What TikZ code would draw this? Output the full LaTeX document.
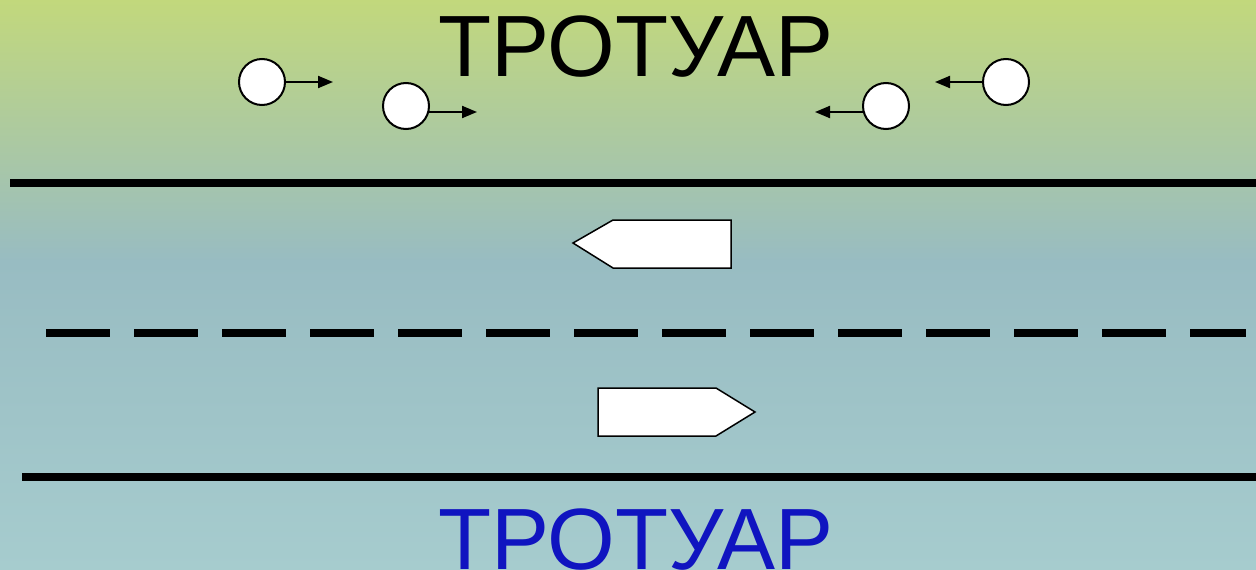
\documentclass[tikz,border=0pt]{standalone}
\usepackage{fontspec}
\setmainfont{Liberation Sans}
\usetikzlibrary{arrows.meta}
\definecolor{bgtop}{RGB}{194,216,124}
\definecolor{bgmid}{RGB}{152,188,194}
\definecolor{bgbot}{RGB}{166,204,206}
\definecolor{walkblue}{RGB}{16,20,192}
\begin{document}
\begin{tikzpicture}[x=1pt,y=-1pt,
  ped/.style={circle,draw=black,fill=white,line width=2pt,minimum size=46pt,inner sep=0pt},
  mv/.style={line width=2pt,-{Triangle[length=15pt,width=12pt]}},
  car/.style={draw=black,fill=white,line width=1.5pt,line join=miter},
  road/.style={line width=8pt},
  walk/.style={font=\fontsize{87}{87}\selectfont,anchor=base,inner sep=0pt}]
\useasboundingbox (0,0) rectangle (1256,570);
\shade[top color=bgtop,bottom color=bgmid] (0,0) rectangle (1256,262);
\shade[top color=bgmid,bottom color=bgbot] (0,260) rectangle (1256,570);
% text
\node[walk] (t1) at (636,76) {ТРОТУАР};
\node[walk,text=walkblue] (t2) at (636,569) {ТРОТУАР};
% road lines
\draw[road] (10,183) -- (1256,183);
\draw[road,dash pattern=on 64pt off 24pt] (46,333) -- (1246,333);
\draw[road] (22,477) -- (1256,477);
% vehicles
\draw[car] (573,243) -- (613,220) -- (731,220) -- (731,268) -- (613,268) -- cycle;
\draw[car] (598,388) -- (716,388) -- (755,412) -- (716,436) -- (598,436) -- cycle;
% pedestrians
\node[ped] (p1) at (262,82) {};
\node[ped] (p2) at (406,106) {};
\node[ped] (p3) at (886,106) {};
\node[ped] (p4) at (1006,82) {};
\coordinate (a1) at (333,82);
\coordinate (a2) at (477,112);
\coordinate (a3) at (815,112);
\coordinate (a4) at (935,82);
\draw[mv] (p1.east) -- (a1);
\draw[mv] ([xshift=-1pt,yshift=-6pt]p2.east) -- (a2);
\draw[mv] ([xshift=1pt,yshift=-6pt]p3.west) -- (a3);
\draw[mv] (p4.west) -- (a4);
\end{tikzpicture}
\end{document}
